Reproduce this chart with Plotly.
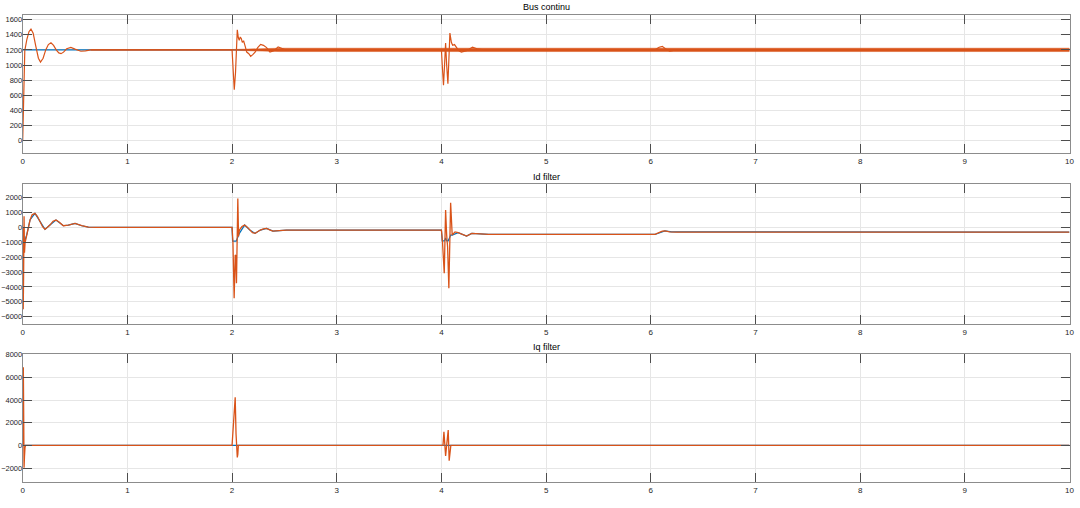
import plotly.graph_objects as go
from plotly.subplots import make_subplots

ORANGE = "#D95319"
BLUE = "#0072BD"

# ---- Bus continu (DC bus voltage) ----
bus_t = [0, 0.006, 0.012, 0.02, 0.04, 0.06, 0.079, 0.10, 0.125, 0.15, 0.17, 0.195, 0.22, 0.245,
         0.27, 0.295, 0.32, 0.345, 0.366, 0.39, 0.42, 0.46, 0.50, 0.556, 0.60, 0.65,
         2.0, 2.01, 2.021, 2.033, 2.045, 2.05, 2.06, 2.069, 2.078, 2.088, 2.098, 2.11, 2.125,
         2.14, 2.16, 2.178, 2.2, 2.22, 2.245, 2.273, 2.30, 2.33, 2.362, 2.40, 2.44, 2.48, 2.52, 2.6,
         4.0, 4.01, 4.02, 4.03, 4.04, 4.05, 4.062, 4.072, 4.081, 4.095, 4.107, 4.125, 4.14,
         4.165, 4.19, 4.24, 4.297, 4.34, 4.4,
         6.04, 6.08, 6.11, 6.14, 6.18, 6.23, 6.3, 10]
bus_v = [0, 500, 1050, 1190, 1340, 1440, 1475, 1420, 1250, 1090, 1040, 1090, 1200, 1270,
         1294, 1260, 1200, 1160, 1150, 1170, 1215, 1233, 1210, 1182, 1188, 1200,
         1200, 950, 676, 900, 1380, 1466, 1360, 1325, 1370, 1350, 1300, 1320, 1250,
         1171, 1150, 1114, 1140, 1170, 1230, 1272, 1260, 1230, 1171, 1190, 1240, 1220, 1195, 1200,
         1200, 950, 733, 1000, 1290, 1000, 755, 1100, 1421, 1300, 1260, 1270, 1240,
         1190, 1171, 1190, 1237, 1215, 1200,
         1200, 1235, 1246, 1215, 1185, 1195, 1200, 1200]
bus_ref_t = [0, 10]
bus_ref_v = [1200, 1200]
# ripple envelope (half peak-to-peak) around the steady level
bus_level = 1200
bus_band_t = [0.65, 2.0, 2.45, 10]
bus_band_half = [5, 5, 22, 22]

# ---- Id filter ----
id_t = [0, 0.005, 0.009, 0.013, 0.017, 0.023, 0.03, 0.038, 0.05, 0.07, 0.09, 0.117, 0.14, 0.165,
        0.19, 0.213, 0.235, 0.26, 0.29, 0.318, 0.35, 0.388, 0.436, 0.5, 0.564, 0.627, 0.7,
        2.0, 2.008, 2.02, 2.03, 2.036, 2.042, 2.05, 2.055, 2.062, 2.07, 2.095, 2.12, 2.145, 2.17,
        2.195, 2.22, 2.245, 2.27, 2.30, 2.33, 2.36, 2.39, 2.45, 2.52,
        4.0, 4.01, 4.027, 4.04, 4.05, 4.059, 4.071, 4.088, 4.103, 4.13, 4.16, 4.2, 4.24, 4.29,
        4.36, 4.45, 6.04, 6.08, 6.11, 6.135, 6.18, 6.25, 10]
id_v = [0, -5500, -3000, 750, -1700, -1000, -800, -510, 0, 500, 850, 946, 750, 383,
        50, -130, -20, 160, 420, 497, 350, 115, 160, 272, 115, 20, 0,
        0, -900, -4760, -1850, -1900, -3750, 300, 1950, -600, -175, 60, 160, 20, -170,
        -350, -400, -280, -175, -90, -60, -160, -250, -220, -175,
        -175, -960, -3080, 1170, -500, -1295, -4090, 1660, -510, -300, -355, -480, -577, -400,
        -450, -470, -470, -350, -250, -230, -300, -310, -310]
id_ref_t = [0, 0.02, 0.04, 0.07, 0.117, 0.165, 0.213, 0.26, 0.318, 0.388, 0.436, 0.5, 0.564, 0.627,
            2.0, 2.005, 2.04, 2.07, 2.12, 2.17, 2.22, 2.27, 2.33, 2.39, 2.52,
            4.0, 4.008, 4.03, 4.04, 4.05, 4.065, 4.09, 4.103, 4.16, 4.24, 4.29, 4.36, 4.45,
            6.04, 6.12, 6.135, 6.2, 10]
id_ref_v = [-1000, -900, -450, 500, 946, 383, -130, 160, 497, 115, 160, 272, 115, 20,
            0, -913, -913, -400, 160, -170, -400, -175, -60, -250, -175,
            -175, -900, -900, -700, -900, -900, -500, -510, -355, -577, -400, -450, -470,
            -470, -250, -230, -300, -310]

# ---- Iq filter ----
iq_t = [0, 0.006, 0.01, 0.013, 0.017, 0.022, 0.028,
        2.0, 2.01, 2.03, 2.038, 2.043, 2.05, 2.055, 2.06,
        4.0, 4.015, 4.024, 4.033, 4.04, 4.05, 4.065, 4.074, 4.082, 4.09, 10]
iq_v = [0, 6900, 2000, -1970, -1000, -200, 0,
        0, 1500, 4240, 1000, -1060, -1060, -800, 0,
        0, 0, 1200, 200, -940, 0, 1350, -1350, -300, 0, 0]
iq_ref_t = [0, 10]
iq_ref_v = [0, 0]

titles = ["Bus continu", "Id filter", "Iq filter"]
x_ticks = list(range(0, 11))
bus_ticks = list(range(0, 1601, 200))
id_ticks = list(range(-6000, 2001, 1000))
iq_ticks = list(range(-2000, 8001, 2000))

W, H = 1080, 508

fig = make_subplots(rows=3, cols=1)

# ripple band for the DC bus
band_x = bus_band_t + bus_band_t[::-1]
band_y = [bus_level + h for h in bus_band_half] + [bus_level - h for h in bus_band_half[::-1]]
fig.add_trace(go.Scatter(x=bus_ref_t, y=bus_ref_v, mode="lines",
                         line=dict(color=BLUE, width=1.2)), row=1, col=1)
fig.add_trace(go.Scatter(x=band_x, y=band_y, fill="toself", fillcolor=ORANGE, mode="lines",
                         line=dict(color=ORANGE, width=0.5)), row=1, col=1)
fig.add_trace(go.Scatter(x=bus_t, y=bus_v, mode="lines",
                         line=dict(color=ORANGE, width=1.2)), row=1, col=1)

fig.add_trace(go.Scatter(x=id_ref_t, y=id_ref_v, mode="lines",
                         line=dict(color=BLUE, width=1.2)), row=2, col=1)
fig.add_trace(go.Scatter(x=id_t, y=id_v, mode="lines",
                         line=dict(color=ORANGE, width=1.3)), row=2, col=1)

fig.add_trace(go.Scatter(x=iq_ref_t, y=iq_ref_v, mode="lines",
                         line=dict(color=BLUE, width=1.2)), row=3, col=1)
fig.add_trace(go.Scatter(x=iq_t, y=iq_v, mode="lines",
                         line=dict(color=ORANGE, width=1.3)), row=3, col=1)

# plot boxes in pixels (top, bottom)
boxes = [(15, 153), (184, 324), (354, 482)]
x_dom = [22.7 / W, 1069.5 / W]
y_ranges = [[-160, 1660], [-6490, 2920], [-3230, 8060]]
y_ticks = [bus_ticks, id_ticks, iq_ticks]

axis_style = dict(
    showline=True, linecolor="#8c8c8c", linewidth=1, mirror="ticks",
    ticks="inside", ticklen=9, tickcolor="#4d4d4d", tickwidth=1,
    showgrid=True, gridcolor="#e6e6e6", gridwidth=1, zeroline=False,
    tickfont=dict(family="Liberation Sans, Arial, sans-serif", size=8, color="#262626"),
    automargin=False, ticklabeloverflow="allow",
)

for i, (top, bot) in enumerate(boxes):
    n = "" if i == 0 else str(i + 1)
    fig.layout["xaxis" + n].update(domain=x_dom, range=[0, 10], tickvals=x_ticks, **axis_style)
    fig.layout["yaxis" + n].update(domain=[1 - bot / H, 1 - top / H], range=y_ranges[i],
                                   tickvals=y_ticks[i], **axis_style)
    fig.layout["yaxis" + n].update(ticklabelstandoff=-2,
                                   tickfont=dict(size=7.5))
    fig.add_annotation(text=titles[i], xref="paper", yref="paper",
                       x=(x_dom[0] + x_dom[1]) / 2, y=1 - (top - 7.5) / H,
                       xanchor="center", yanchor="middle", showarrow=False,
                       font=dict(family="Liberation Sans, Arial, sans-serif", size=9, color="#000000"))

fig.update_layout(
    width=W, height=H,
    margin=dict(l=0, r=0, t=0, b=0),
    paper_bgcolor="white", plot_bgcolor="white",
    showlegend=False,
)

fig.write_html("out.html", config={"displayModeBar": False},
               post_script="document.body.style.margin='0';")
